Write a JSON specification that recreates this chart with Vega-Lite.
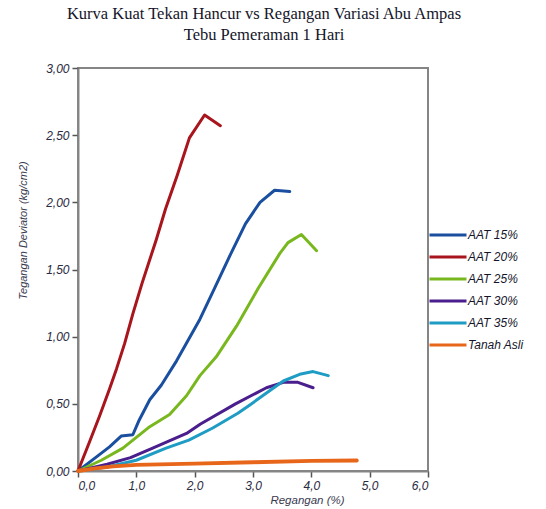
{
  "$schema": "https://vega.github.io/schema/vega-lite/v6.json",
  "autosize": {"type": "none"},
  "width": 350,
  "height": 403,
  "padding": {"left": 78, "top": 68, "right": 118, "bottom": 38},
  "background": "white",
  "title": {
    "text": ["Kurva Kuat Tekan Hancur vs Regangan Variasi  Abu Ampas", "Tebu  Pemeraman  1 Hari"],
    "font": "Liberation Serif",
    "fontSize": 16.5,
    "fontWeight": "normal",
    "color": "#15152a",
    "lineHeight": 21,
    "anchor": "middle",
    "dx": 11,
    "offset": 19
  },
  "data": {
    "values": [
      {"s": "AAT 15%", "x": 0, "y": 0},
      {"s": "AAT 15%", "x": 0.3, "y": 0.1},
      {"s": "AAT 15%", "x": 0.54, "y": 0.18},
      {"s": "AAT 15%", "x": 0.74, "y": 0.26},
      {"s": "AAT 15%", "x": 0.94, "y": 0.27},
      {"s": "AAT 15%", "x": 1.05, "y": 0.38},
      {"s": "AAT 15%", "x": 1.23, "y": 0.53},
      {"s": "AAT 15%", "x": 1.43, "y": 0.64},
      {"s": "AAT 15%", "x": 1.69, "y": 0.82},
      {"s": "AAT 15%", "x": 2.09, "y": 1.13},
      {"s": "AAT 15%", "x": 2.34, "y": 1.36},
      {"s": "AAT 15%", "x": 2.6, "y": 1.6},
      {"s": "AAT 15%", "x": 2.87, "y": 1.84},
      {"s": "AAT 15%", "x": 3.12, "y": 2.0},
      {"s": "AAT 15%", "x": 3.37, "y": 2.09},
      {"s": "AAT 15%", "x": 3.63, "y": 2.08},
      {"s": "AAT 20%", "x": 0, "y": 0},
      {"s": "AAT 20%", "x": 0.2, "y": 0.22},
      {"s": "AAT 20%", "x": 0.37, "y": 0.41},
      {"s": "AAT 20%", "x": 0.54, "y": 0.61},
      {"s": "AAT 20%", "x": 0.66, "y": 0.76},
      {"s": "AAT 20%", "x": 0.8, "y": 0.95},
      {"s": "AAT 20%", "x": 0.94, "y": 1.17},
      {"s": "AAT 20%", "x": 1.1, "y": 1.4},
      {"s": "AAT 20%", "x": 1.34, "y": 1.72},
      {"s": "AAT 20%", "x": 1.5, "y": 1.95},
      {"s": "AAT 20%", "x": 1.7, "y": 2.2},
      {"s": "AAT 20%", "x": 1.91, "y": 2.48},
      {"s": "AAT 20%", "x": 2.17, "y": 2.65},
      {"s": "AAT 20%", "x": 2.44, "y": 2.57},
      {"s": "AAT 25%", "x": 0, "y": 0},
      {"s": "AAT 25%", "x": 0.4, "y": 0.08},
      {"s": "AAT 25%", "x": 0.77, "y": 0.17},
      {"s": "AAT 25%", "x": 1.23, "y": 0.33},
      {"s": "AAT 25%", "x": 1.57, "y": 0.42},
      {"s": "AAT 25%", "x": 1.86, "y": 0.56},
      {"s": "AAT 25%", "x": 2.09, "y": 0.71},
      {"s": "AAT 25%", "x": 2.37, "y": 0.85},
      {"s": "AAT 25%", "x": 2.72, "y": 1.08},
      {"s": "AAT 25%", "x": 3.09, "y": 1.36},
      {"s": "AAT 25%", "x": 3.46, "y": 1.62},
      {"s": "AAT 25%", "x": 3.6, "y": 1.7},
      {"s": "AAT 25%", "x": 3.83, "y": 1.76},
      {"s": "AAT 25%", "x": 4.09, "y": 1.64},
      {"s": "AAT 30%", "x": 0, "y": 0},
      {"s": "AAT 30%", "x": 0.5, "y": 0.05},
      {"s": "AAT 30%", "x": 0.9, "y": 0.1},
      {"s": "AAT 30%", "x": 1.28, "y": 0.17},
      {"s": "AAT 30%", "x": 1.86, "y": 0.28},
      {"s": "AAT 30%", "x": 2.1, "y": 0.35},
      {"s": "AAT 30%", "x": 2.7, "y": 0.5},
      {"s": "AAT 30%", "x": 3.23, "y": 0.62},
      {"s": "AAT 30%", "x": 3.52, "y": 0.66},
      {"s": "AAT 30%", "x": 3.77, "y": 0.66},
      {"s": "AAT 30%", "x": 4.03, "y": 0.62},
      {"s": "AAT 35%", "x": 0, "y": 0},
      {"s": "AAT 35%", "x": 0.5, "y": 0.03},
      {"s": "AAT 35%", "x": 1.0, "y": 0.08},
      {"s": "AAT 35%", "x": 1.51, "y": 0.17},
      {"s": "AAT 35%", "x": 1.9, "y": 0.23},
      {"s": "AAT 35%", "x": 2.31, "y": 0.32},
      {"s": "AAT 35%", "x": 2.74, "y": 0.43},
      {"s": "AAT 35%", "x": 2.94, "y": 0.49},
      {"s": "AAT 35%", "x": 3.52, "y": 0.67},
      {"s": "AAT 35%", "x": 3.8, "y": 0.72},
      {"s": "AAT 35%", "x": 4.03, "y": 0.74},
      {"s": "AAT 35%", "x": 4.29, "y": 0.71},
      {"s": "Tanah Asli", "x": 0, "y": 0},
      {"s": "Tanah Asli", "x": 0.3, "y": 0.02},
      {"s": "Tanah Asli", "x": 0.6, "y": 0.035},
      {"s": "Tanah Asli", "x": 1.0, "y": 0.045},
      {"s": "Tanah Asli", "x": 2.0, "y": 0.055},
      {"s": "Tanah Asli", "x": 3.0, "y": 0.065},
      {"s": "Tanah Asli", "x": 4.0, "y": 0.075},
      {"s": "Tanah Asli", "x": 4.78, "y": 0.078}
    ]
  },
  "mark": {"type": "line", "strokeJoin": "round", "strokeCap": "round"},
  "encoding": {
    "x": {
      "field": "x",
      "type": "quantitative",
      "scale": {"domain": [0, 6], "nice": false, "zero": true},
      "axis": {
        "title": "Regangan (%)",
        "values": [0, 1, 2, 3, 4, 5, 6],
        "labelExpr": "replace(format(datum.value, '.1f'), '.', ',')",
        "grid": false,
        "titlePadding": 3,
        "titleX": 229,
        "titleFontSize": 11.5
      }
    },
    "y": {
      "field": "y",
      "type": "quantitative",
      "scale": {"domain": [0, 3], "nice": false},
      "axis": {
        "title": "Tegangan Deviator (kg/cm2)",
        "values": [0, 0.5, 1, 1.5, 2, 2.5, 3],
        "labelExpr": "replace(format(datum.value, '.2f'), '.', ',')",
        "grid": false,
        "titlePadding": 17,
        "titleY": 162
      }
    },
    "strokeWidth": {
      "condition": {"test": "datum.s === 'Tanah Asli'", "value": 3.8},
      "value": 3
    },
    "color": {
      "field": "s",
      "type": "nominal",
      "scale": {
        "domain": ["AAT 15%", "AAT 20%", "AAT 25%", "AAT 30%", "AAT 35%", "Tanah Asli"],
        "range": ["#1a4fa0", "#a8151c", "#78b81e", "#4a1e8c", "#1e9cc4", "#e8661a"]
      },
      "legend": {
        "title": null,
        "orient": "none",
        "legendX": 350,
        "legendY": 160,
        "symbolType": "stroke",
        "symbolSize": 1369,
        "symbolStrokeWidth": 3,
        "clipHeight": 14,
        "rowPadding": 8,
        "labelOffset": 0,
        "labelFont": "Liberation Sans",
        "labelFontStyle": "italic",
        "labelFontSize": 12,
        "labelColor": "#15152a"
      }
    }
  },
  "config": {
    "view": {"stroke": "#858585", "strokeWidth": 2},
    "axis": {
      "domainColor": "#858585",
      "domainWidth": 2,
      "tickColor": "#555555",
      "tickWidth": 1.5,
      "tickSize": 6,
      "labelFont": "Liberation Sans",
      "labelFontStyle": "italic",
      "labelFontSize": 12,
      "labelColor": "#2a2a40",
      "labelPadding": 3,
      "titleFont": "Liberation Sans",
      "titleFontStyle": "italic",
      "titleFontWeight": "normal",
      "titleFontSize": 11,
      "titleColor": "#3a3a50"
    }
  }
}
